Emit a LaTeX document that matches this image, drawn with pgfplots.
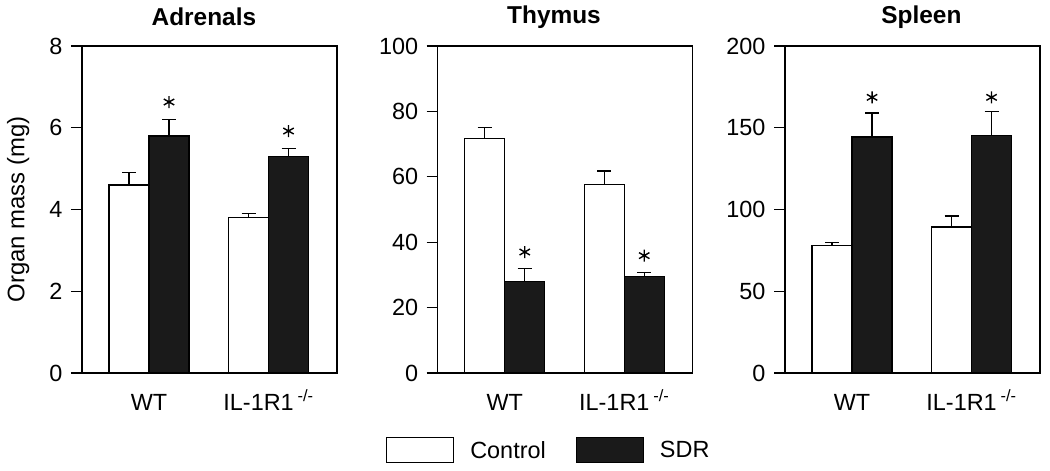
\documentclass[border=0pt]{standalone}
\usepackage{fontspec}
\setmainfont{Liberation Sans}
\usepackage{pgfplots}
\pgfplotsset{compat=1.18}
\definecolor{sdrc}{HTML}{1A1A1A}
\pgfplotsset{
  panel/.style={
    scale only axis, width=255bp, height=327bp,
    anchor=south west,
    xmin=-0.561, xmax=1.573,
    xtick={0,1}, xticklabels={WT, IL-1R1\,\textsuperscript{-/-}},
    x tick style={draw=none},
    ymin=0,
    ytick pos=left, tick align=outside, major tick length=11bp,
    axis line style={line width=1.2bp},
    y tick style={line width=1.2bp, black},
    tick label style={font=\fontsize{23.5}{28}\selectfont},
    yticklabel style={xshift=-5bp},
    xticklabel style={anchor=base, text height=16bp, yshift=-26bp},
    /pgf/number format/assume math mode=true,
    title style={font=\bfseries\fontsize{24.5}{29}\selectfont, anchor=center},
    label style={font=\fontsize{24}{28}\selectfont},
    clip=false,
  },
  ctrl/.style={ybar, bar width=40bp, bar shift=0bp, fill=white, draw=black, line width=1.2bp,
    legend image code/.code={\draw[line width=1.2bp, draw=black, fill=white] (0bp,-12.5bp) rectangle (67bp,12.5bp);},
    error bars/.cd, y dir=plus, y explicit, error bar style={line width=1.2bp, black}, error mark options={line width=1.2bp, black, mark size=7bp, rotate=90}},
  sdr/.style={ybar, bar width=40bp, bar shift=0bp, fill=sdrc, draw=black, line width=1.2bp,
    legend image code/.code={\draw[line width=1.2bp, draw=black, fill=sdrc] (0bp,-12.5bp) rectangle (67bp,12.5bp);},
    error bars/.cd, y dir=plus, y explicit, error bar style={line width=1.2bp, black}, error mark options={line width=1.2bp, black, mark size=7bp, rotate=90}},
  star/.style={forget plot, only marks, mark=asterisk, mark size=6bp, mark options={line width=1.4bp, black}},
}
\begin{document}
\begin{tikzpicture}
\useasboundingbox (0bp,0bp) rectangle (1050bp,-471bp);
% Adrenals
\begin{axis}[panel, at={(82bp,-373bp)}, ymax=8, ytick={0,2,4,6,8},
  title={Adrenals}, title style={at={(axis description cs:0.478,1.071)}},
  ylabel={Organ mass (mg)}, ylabel style={at={(axis description cs:-0.25,0.5)}, anchor=center}]
\addplot[ctrl] coordinates {(-0.1674,4.6) +- (0,0.3) (0.8326,3.8) +- (0,0.1)};
\addplot[sdr] coordinates {(0.1674,5.8) +- (0,0.4) (1.1674,5.3) +- (0,0.2)};
\addplot[star] coordinates {(0.1674,6.63) (1.1674,5.92)};
\end{axis}
% Thymus
\begin{axis}[panel, at={(437.7bp,-373bp)}, ymax=100, ytick={0,20,40,60,80,100},
  title={Thymus}, title style={at={(axis description cs:0.456,1.071)}},
  legend columns=2,
  legend style={at={(axis description cs:-0.203,-0.196)}, anchor=north west, draw=none, fill=none,
    inner sep=0pt, font=\fontsize{23.5}{28}\selectfont,
    /tikz/every even column/.append style={column sep=28bp},
    /tikz/every odd column/.append style={column sep=14bp}}]
\addplot[ctrl] coordinates {(-0.1674,71.6) +- (0,3.4) (0.8326,57.7) +- (0,4.1)};
\addlegendentry{Control}
\addplot[sdr] coordinates {(0.1674,28.1) +- (0,3.8) (1.1674,29.6) +- (0,1.2)};
\addlegendentry{SDR}
\addplot[star] coordinates {(0.1674,37.0) (1.1674,35.9)};
\end{axis}
% Spleen
\begin{axis}[panel, at={(785bp,-373bp)}, ymax=200, ytick={0,50,100,150,200},
  title={Spleen}, title style={at={(axis description cs:0.535,1.071)}}]
\addplot[ctrl] coordinates {(-0.1674,77.9) +- (0,2.0) (0.8326,89.3) +- (0,6.7)};
\addplot[sdr] coordinates {(0.1674,144.3) +- (0,14.7) (1.1674,145.1) +- (0,14.7)};
\addplot[star] coordinates {(0.1674,168.6) (1.1674,168.6)};
\end{axis}
\end{tikzpicture}
\end{document}
